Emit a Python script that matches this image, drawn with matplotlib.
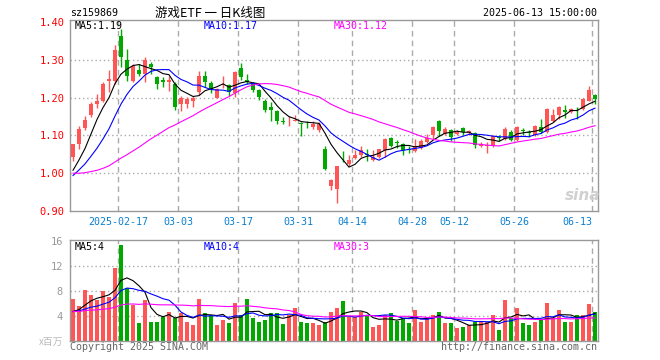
import matplotlib.pyplot as plt
import numpy as np
import pandas as pd

# daily bars 2025-02-05 .. 2025-06-13 (88 trading days)
open_ = [1.042, 1.078, 1.119, 1.154, 1.183, 1.192, 1.243, 1.245, 1.364, 1.300, 1.245, 1.274, 1.263, 1.289, 1.254, 1.247, 1.240, 1.236, 1.183, 1.183, 1.190, 1.214,
         1.256, 1.239, 1.200, 1.232, 1.232, 1.212, 1.279, 1.247, 1.238, 1.219, 1.192, 1.175, 1.164, 1.138, 1.137, 1.139, 1.133, 1.131, 1.122, 1.113,
         1.063, 0.966, 0.959, 1.036, 1.023, 1.041, 1.049, 1.051, 1.036, 1.042, 1.060, 1.093, 1.083, 1.078, 1.063, 1.058, 1.067, 1.082, 1.100, 1.139, 1.104, 1.115, 1.104, 1.120,
         1.106, 1.107, 1.071, 1.071, 1.071, 1.096, 1.091, 1.110, 1.089, 1.114, 1.108, 1.101, 1.122, 1.110, 1.137, 1.153, 1.168, 1.163, 1.171, 1.170, 1.192, 1.207]
high = [1.078, 1.124, 1.152, 1.188, 1.210, 1.241, 1.272, 1.338, 1.382, 1.329, 1.289, 1.289, 1.307, 1.294, 1.258, 1.255, 1.258, 1.241, 1.205, 1.201, 1.205, 1.270,
        1.270, 1.245, 1.226, 1.256, 1.236, 1.270, 1.291, 1.261, 1.241, 1.222, 1.197, 1.188, 1.166, 1.148, 1.152, 1.154, 1.135, 1.139, 1.139, 1.135,
        1.073, 0.985, 1.020, 1.058, 1.047, 1.062, 1.071, 1.064, 1.060, 1.064, 1.093, 1.095, 1.088, 1.079, 1.073, 1.091, 1.091, 1.104, 1.126, 1.141, 1.123, 1.117, 1.113, 1.122,
        1.115, 1.110, 1.082, 1.082, 1.101, 1.100, 1.122, 1.113, 1.126, 1.119, 1.113, 1.128, 1.144, 1.172, 1.170, 1.177, 1.181, 1.172, 1.174, 1.198, 1.230, 1.210]
low = [1.032, 1.064, 1.113, 1.148, 1.173, 1.188, 1.214, 1.236, 1.280, 1.245, 1.241, 1.258, 1.241, 1.263, 1.223, 1.229, 1.217, 1.168, 1.164, 1.173, 1.176, 1.208,
       1.229, 1.212, 1.199, 1.226, 1.205, 1.201, 1.247, 1.236, 1.214, 1.194, 1.161, 1.137, 1.131, 1.131, 1.126, 1.137, 1.098, 1.120, 1.117, 1.108,
       1.009, 0.955, 0.921, 1.029, 1.018, 1.038, 1.042, 1.032, 1.032, 1.041, 1.044, 1.069, 1.067, 1.047, 1.053, 1.056, 1.064, 1.079, 1.091, 1.097, 1.100, 1.086, 1.100, 1.100,
       1.102, 1.066, 1.069, 1.054, 1.069, 1.086, 1.089, 1.086, 1.086, 1.100, 1.095, 1.098, 1.107, 1.107, 1.135, 1.144, 1.146, 1.160, 1.142, 1.168, 1.190, 1.183]
close = [1.078, 1.117, 1.141, 1.182, 1.192, 1.235, 1.248, 1.327, 1.307, 1.258, 1.283, 1.261, 1.300, 1.280, 1.235, 1.240, 1.247, 1.176, 1.198, 1.195, 1.198, 1.258,
         1.241, 1.223, 1.223, 1.236, 1.214, 1.267, 1.254, 1.241, 1.219, 1.201, 1.168, 1.166, 1.139, 1.136, 1.138, 1.141, 1.129, 1.129, 1.130, 1.129,
         1.012, 0.982, 1.018, 1.034, 1.034, 1.049, 1.060, 1.048, 1.044, 1.063, 1.091, 1.073, 1.081, 1.060, 1.061, 1.073, 1.085, 1.093, 1.123, 1.111, 1.117, 1.095, 1.110, 1.108,
         1.112, 1.075, 1.078, 1.075, 1.098, 1.094, 1.116, 1.089, 1.122, 1.112, 1.106, 1.126, 1.110, 1.170, 1.153, 1.175, 1.161, 1.170, 1.169, 1.197, 1.219, 1.195]
# volume in millions
volume = [6.7, 5.5, 8.1, 7.3, 6.5, 7.9, 7.0, 11.7, 15.3, 8.4, 5.7, 2.9, 6.5, 3.1, 3.0, 3.8, 4.7, 3.7, 4.4, 3.0, 2.5, 6.7,
          4.5, 4.1, 2.5, 3.4, 2.9, 6.1, 4.1, 6.7, 3.7, 3.1, 3.4, 4.4, 4.5, 2.7, 4.2, 5.2, 3.0, 2.8, 2.9, 2.5, 3.0, 4.7,
          5.3, 6.3, 3.8, 3.8, 4.7, 4.0, 2.3, 2.5, 4.1, 4.5, 3.2, 3.6, 2.9, 4.9, 3.1, 3.5, 4.2, 4.7, 2.8, 2.9, 2.0, 2.2,
          2.6, 3.1, 3.1, 3.1, 4.1, 1.7, 6.5, 3.7, 5.2, 2.9, 2.5, 3.1, 3.3, 6.0, 3.6, 4.9, 3.1, 3.1, 4.1, 4.2, 5.9, 4.7]

# estimated days before the window, only used to start the moving averages
prev_close = [1.12, 1.10, 1.09, 1.09, 1.08, 1.05, 1.02, 1.00, 0.99, 0.98, 0.97, 0.96, 0.95, 0.95, 0.94,
              0.95, 0.96, 0.95, 0.95, 0.96, 0.97, 0.98, 0.98, 0.98, 0.99, 0.98, 0.99, 0.99, 1.00]
prev_vol = [5.2, 4.1, 4.8, 5.6, 4.3, 4.4, 5.0, 4.6, 4.2, 5.1, 4.9, 4.3, 4.5, 5.3, 4.4,
            4.7, 4.6, 4.8, 4.2, 5.0, 4.6, 5.0, 4.4, 4.8, 4.7, 4.0, 4.5, 3.9, 4.4]

tick_pos = [8, 18, 28, 38, 47, 57, 64, 74, 87]
tick_labels = ['2025-02-17', '03-03', '03-17', '03-31', '04-14', '04-28', '05-12', '05-26', '06-13']
price_grid = [1.00, 1.10, 1.20, 1.30]
price_ticks = [0.90, 1.00, 1.10, 1.20, 1.30, 1.40]
vol_ticks = [4, 8, 12, 16]

UP = '#ff5555'
DOWN = '#00a800'
GRID = '#aaaaaa'
MONO = 'DejaVu Sans Mono'
FS = 7.2
W, H = 660, 360

n = len(close)
x = np.arange(n) + 0.5
o = np.array(open_)
c = np.array(close)
cols = [UP if c[i] >= o[i] else DOWN for i in range(n)]


def ma(prev, vals, k):
    s = pd.Series(list(prev) + list(vals))
    return s.rolling(k).mean().values[len(prev):]


def fx(px):
    return px / W


def fy(py):
    return 1 - py / H


fig = plt.figure(figsize=(6.6, 3.6), dpi=100)
ax1 = fig.add_axes([fx(70), fy(211), fx(528), 191 / H])
ax2 = fig.add_axes([fx(70), fy(341), fx(528), 101 / H])

# price panel
for p in price_grid:
    ax1.axhline(p, color=GRID, lw=1, ls=(0, (1, 2)), zorder=0)
for t in tick_pos:
    ax1.axvline(t, color=GRID, lw=1, ls=(0, (4, 3)), zorder=0)
ax1.vlines(x, low, high, colors=cols, lw=1, zorder=2)
body_lo = np.minimum(o, c)
body_h = np.maximum(np.abs(c - o), 0.002)
ax1.bar(x, body_h, bottom=body_lo, width=0.8, color=cols, lw=0, zorder=3)
ax1.plot(x, ma(prev_close, close, 5), color='black', lw=0.8, zorder=4)
ax1.plot(x, ma(prev_close, close, 10), color='#0000ff', lw=0.8, zorder=4)
ax1.plot(x, ma(prev_close, close, 30), color='#ff00ff', lw=0.8, zorder=4)
ax1.set_xlim(0, 88)
ax1.set_ylim(0.90, 1.405)
ax1.set_yticks(price_ticks)
ax1.set_yticklabels(['%.2f' % p for p in price_ticks], color='red', family=MONO, fontsize=FS + 0.3)
ax1.set_xticks(tick_pos)
ax1.set_xticklabels(tick_labels, color='#0a7fd0', family=MONO, fontsize=FS)
ax1.get_xticklabels()[-1].set_ha('right')
ax1.tick_params(length=0, pad=4)

# volume panel
for v in vol_ticks[:-1]:
    ax2.axhline(v, color=GRID, lw=1, ls=(0, (1, 2)), zorder=0)
for t in tick_pos:
    ax2.axvline(t, color=GRID, lw=1, ls=(0, (4, 3)), zorder=0)
ax2.bar(x, volume, width=0.8, color=cols, lw=0, zorder=2)
ax2.plot(x, ma(prev_vol, volume, 5), color='black', lw=0.8, zorder=4)
ax2.plot(x, ma(prev_vol, volume, 10), color='#0000ff', lw=0.8, zorder=4)
ax2.plot(x, ma(prev_vol, volume, 30), color='#ff00ff', lw=0.8, zorder=4)
ax2.set_xlim(0, 88)
ax2.set_ylim(0, 16.1)
ax2.set_yticks(vol_ticks)
ax2.set_yticklabels([str(v) for v in vol_ticks], color='#999999', family=MONO, fontsize=FS + 0.3)
ax2.set_xticks([])
ax2.tick_params(length=0, pad=5)

for ax in (ax1, ax2):
    for s in ax.spines.values():
        s.set_color('#999999')
        s.set_linewidth(1)

# header texts
fig.text(fx(70), fy(13), 'sz159869', family=MONO, fontsize=FS, va='center', ha='left')
fig.text(fx(210), fy(13), '游戏ETF 一 日K线图', family=['Noto Sans CJK SC', 'DejaVu Sans'],
         fontsize=9, va='center', ha='center')
fig.text(fx(597), fy(13), '2025-06-13 15:00:00', family=MONO, fontsize=FS, va='center', ha='right')

# MA legends
fig.text(fx(75), fy(26), 'MA5:1.19', family=MONO, fontsize=FS, va='center', color='black')
fig.text(fx(204), fy(26), 'MA10:1.17', family=MONO, fontsize=FS, va='center', color='#0000ff')
fig.text(fx(334), fy(26), 'MA30:1.12', family=MONO, fontsize=FS, va='center', color='#ff00ff')
fig.text(fx(75), fy(247), 'MA5:4', family=MONO, fontsize=FS, va='center', color='black')
fig.text(fx(204), fy(247), 'MA10:4', family=MONO, fontsize=FS, va='center', color='#0000ff')
fig.text(fx(334), fy(247), 'MA30:3', family=MONO, fontsize=FS, va='center', color='#ff00ff')

# footer
fig.text(fx(63), fy(342), 'x百万', family=['Noto Sans CJK SC', 'DejaVu Sans'], fontsize=7,
         va='center', ha='right', color='#bbbbbb')
fig.text(fx(70), fy(347), 'Copyright 2025 SINA.COM', family=MONO, fontsize=FS, va='center', color='#666666')
fig.text(fx(597), fy(347), 'http://finance.sina.com.cn', family=MONO, fontsize=FS, va='center', ha='right',
         color='#666666')
fig.text(fx(583), fy(195), 'sina', fontsize=11, fontweight='bold', style='italic', va='center', ha='center',
         color='#d0d0d0')

plt.savefig('out.png', dpi=100)
